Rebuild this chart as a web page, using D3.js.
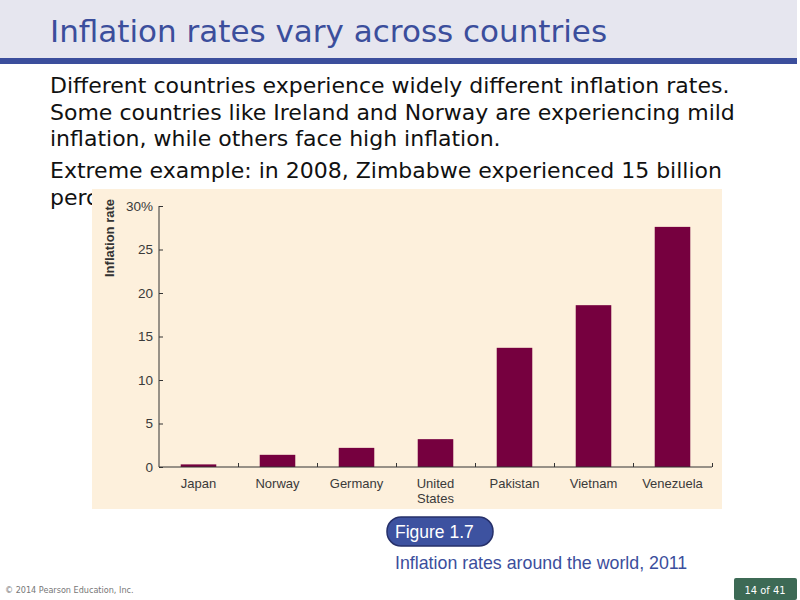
<!DOCTYPE html>
<html>
<head>
<meta charset="utf-8">
<script src="https://cdn.jsdelivr.net/npm/d3@7"></script>
<style>
  body { margin: 0; background: #fff; }
  svg { display: block; }
</style>
</head>
<body>
<svg width="800" height="600"></svg>
<script>
  // data (2011 inflation, percent)
  var countries = ["Japan", "Norway", "Germany", "United States", "Pakistan", "Vietnam", "Venezuela"];
  var rates = [0.3, 1.4, 2.2, 3.2, 13.7, 18.6, 27.6];
  var yTicks = [0, 5, 10, 15, 20, 25, 30];

  var bullets = [
    ["Different countries experience widely different inflation rates.",
     "Some countries like Ireland and Norway are experiencing mild",
     "inflation, while others face high inflation."],
    ["Extreme example: in 2008, Zimbabwe experienced 15 billion",
     "percent inflation."]
  ];

  var svg = d3.select("svg");
  var blue = "#3b4e9c";

  // title band
  svg.append("rect").attr("x", 0).attr("y", 0).attr("width", 797).attr("height", 58).attr("fill", "#e6e6ef");
  svg.append("rect").attr("x", 0).attr("y", 58).attr("width", 797).attr("height", 6).attr("fill", blue);
  svg.append("text")
      .attr("x", 50).attr("y", 42)
      .attr("font-family", "DejaVu Sans").attr("font-size", 31)
      .attr("fill", blue)
      .text("Inflation rates vary across countries");

  // body text (last line is mostly hidden behind the figure panel)
  var lineY = [93, 120, 146, 178, 205], k = 0;
  var body = svg.append("g");
  bullets.forEach(function(par) {
    par.forEach(function(t) {
      body.append("text")
          .attr("x", 50).attr("y", lineY[k++])
          .attr("font-family", "DejaVu Sans").attr("font-size", 22)
          .attr("fill", "#111")
          .text(t);
    });
  });

  // chart panel
  svg.append("rect").attr("x", 92).attr("y", 189).attr("width", 630).attr("height", 320).attr("fill", "#fdf0dc");

  var margin = {left: 159, top: 206, right: 712, bottom: 467};
  var g = svg.append("g");

  var x = d3.scaleBand()
      .domain(countries)
      .range([margin.left, margin.right])
      .paddingInner(0.55).paddingOuter(0.275);

  var xb = d3.scaleLinear().domain([0, countries.length]).range([margin.left, margin.right]);

  var y = d3.scaleLinear()
      .domain([0, 30])
      .range([margin.bottom, margin.top]);

  g.selectAll(".bar")
      .data(rates)
    .enter().append("rect")
      .attr("class", "bar")
      .attr("x", function(d, i) { return x(countries[i]); })
      .attr("width", x.bandwidth())
      .attr("y", function(d) { return y(d); })
      .attr("height", function(d) { return y(0) - y(d); })
      .attr("fill", "#76003f");

  // y axis
  var yAxis = g.append("g")
      .attr("transform", "translate(" + margin.left + ",0)")
      .call(d3.axisRight(y).tickValues(yTicks).tickSize(4).tickFormat(""));
  yAxis.select(".domain").attr("stroke", "#333").attr("d", "M0," + margin.top + "V" + margin.bottom);
  yAxis.selectAll(".tick line").attr("stroke", "#333");

  g.selectAll(".ylab")
      .data(yTicks)
    .enter().append("text")
      .attr("x", margin.left - 6)
      .attr("y", function(d) { return y(d) + 4.5; })
      .attr("text-anchor", "end")
      .attr("font-family", "Liberation Sans").attr("font-size", 13.5)
      .attr("fill", "#3a3a3a")
      .text(function(d) { return d === 30 ? "30%" : d; });

  // x axis with boundary ticks
  var xAxis = g.append("g")
      .attr("transform", "translate(0," + margin.bottom + ")")
      .call(d3.axisTop(xb).tickValues(d3.range(1, countries.length + 1)).tickSize(4).tickFormat(""));
  xAxis.select(".domain").attr("stroke", "#333").attr("d", "M" + margin.left + ",0H" + margin.right);
  xAxis.selectAll(".tick line").attr("stroke", "#333");

  countries.forEach(function(c) {
    var parts = c === "United States" ? ["United", "States"] : [c];
    parts.forEach(function(p, j) {
      g.append("text")
          .attr("x", x(c) + x.bandwidth() / 2)
          .attr("y", 488 + j * 15)
          .attr("text-anchor", "middle")
          .attr("font-family", "Liberation Sans").attr("font-size", 13)
          .attr("fill", "#3a3a3a")
          .text(p);
    });
  });

  svg.append("text")
      .attr("transform", "translate(114,238) rotate(-90)")
      .attr("text-anchor", "middle")
      .attr("font-family", "Liberation Sans").attr("font-size", 13).attr("font-weight", "bold")
      .attr("fill", "#333")
      .text("Inflation rate");

  // figure tag and caption
  svg.append("rect").attr("x", 387).attr("y", 517).attr("width", 106).attr("height", 29).attr("rx", 14)
      .attr("fill", "#3d52a0").attr("stroke", "#26306a").attr("stroke-width", 1.5);
  svg.append("text").attr("x", 395).attr("y", 538)
      .attr("font-family", "Liberation Sans").attr("font-size", 17.5).attr("fill", "#fff")
      .text("Figure 1.7");
  svg.append("text").attr("x", 395).attr("y", 569)
      .attr("font-family", "Liberation Sans").attr("font-size", 17.8).attr("fill", blue)
      .text("Inflation rates around the world, 2011");

  // footer
  svg.append("text").attr("x", 5).attr("y", 593)
      .attr("font-family", "DejaVu Sans Condensed").attr("font-size", 9).attr("fill", "#777")
      .text("\u00a9 2014 Pearson Education, Inc.");
  svg.append("rect").attr("x", 734).attr("y", 578).attr("width", 63).attr("height", 22).attr("rx", 2).attr("fill", "#3d6a55");
  svg.append("text").attr("x", 765).attr("y", 594).attr("text-anchor", "middle")
      .attr("font-family", "DejaVu Sans Condensed").attr("font-size", 11).attr("fill", "#fff")
      .text("14 of 41");
</script>
</body>
</html>
